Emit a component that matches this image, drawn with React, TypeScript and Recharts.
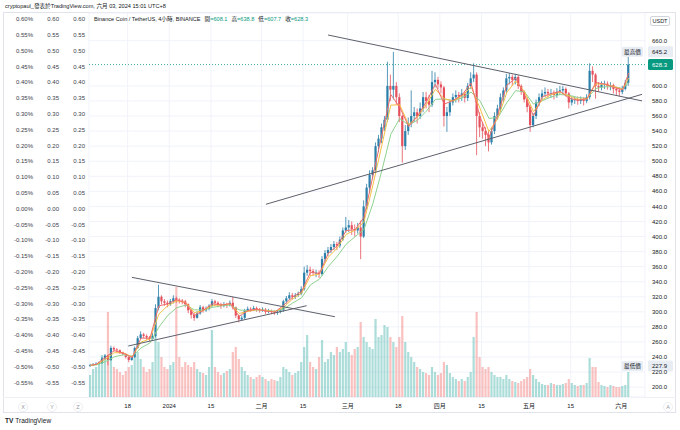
import React from 'react';
import {
  ComposedChart, Bar, Line, XAxis, YAxis, CartesianGrid, ReferenceLine, Cell,
} from 'recharts';

// BNB/USDT 4h snapshot at roughly one candle per day.
// day 1 = 2023-12-05 ... day 182 = 2024-06-03 (days 183-187 are empty right margin)
const opens = [
  229, 229, 230, 231, 232, 238, 242, 236, 252,
  250, 249, 246, 244, 240, 236, 240, 252, 265, 270,
  268, 266, 264, 268, 305, 320, 314, 312, 310, 314,
  318, 316, 315, 314, 310, 302, 296, 292, 298, 306,
  302, 304, 308, 314, 312, 310, 308, 310, 309, 312,
  306, 295, 290, 292, 302, 304, 303, 305, 303, 302,
  303, 300, 301, 300, 299, 300, 302, 314, 318, 322,
  320, 322, 324, 330, 352, 356, 354, 352, 352, 350,
  370, 378, 382, 386, 390, 388, 396, 408, 412, 415,
  410, 408, 412, 400, 440, 465, 482, 488, 520, 530,
  545, 555, 600, 595, 600, 585, 560, 520, 540, 550,
  560, 565, 560, 570, 585, 580, 575, 605, 608, 602,
  598, 560, 565, 578, 585, 588, 586, 590, 584, 600,
  610, 615, 560, 545, 540, 535, 525, 540, 560, 570,
  585, 594, 610, 612, 608, 612, 600, 592, 582, 572,
  548, 560, 578, 585, 590, 592, 590, 590, 588, 592,
  594, 596, 590, 578, 582, 582, 580, 582, 580, 585,
  620, 615, 600, 598, 602, 603, 600, 601, 596, 594,
  592, 596, 604,
];
const highs = [
  231, 232, 233, 234, 240, 244, 243, 255, 254,
  252, 250, 247, 245, 241, 242, 254, 268, 274, 272,
  270, 268, 272, 310, 336, 322, 317, 315, 317, 322,
  320, 318, 317, 316, 311, 304, 299, 301, 309, 308,
  307, 310, 317, 316, 314, 312, 313, 312, 315, 320,
  307, 296, 295, 304, 307, 306, 308, 307, 305, 306,
  305, 304, 303, 302, 302, 304, 316, 321, 326, 325,
  325, 327, 334, 360, 362, 360, 357, 356, 355, 374,
  382, 386, 390, 394, 393, 400, 412, 426, 422, 420,
  416, 418, 421, 448, 470, 488, 492, 525, 535, 550,
  560, 632, 615, 645.2, 605, 590, 562, 548, 558, 594,
  572, 570, 578, 592, 592, 588, 620, 618, 612, 606,
  600, 572, 582, 590, 594, 592, 596, 593, 604, 618,
  630, 618, 565, 552, 545, 542, 545, 565, 575, 590,
  598, 616, 617, 615, 616, 614, 602, 594, 585, 575,
  564, 582, 590, 595, 598, 596, 596, 594, 597, 600,
  600, 598, 592, 586, 586, 586, 586, 585, 589, 630,
  626, 617, 605, 606, 607, 606, 605, 603, 599, 598,
  600, 608, 638.8,
];
const lows = [
  227, 228, 229, 230, 231, 236, 229, 235, 247,
  246, 244, 242, 238, 233, 235, 239, 251, 264, 265,
  263, 261, 263, 266, 302, 310, 308, 306, 308, 311,
  312, 311, 310, 306, 298, 291, 288, 291, 296, 299,
  300, 302, 306, 308, 306, 304, 306, 305, 307, 303,
  292, 286, 288, 290, 300, 300, 301, 300, 299, 300,
  297, 298, 297, 296, 296, 298, 300, 311, 316, 316,
  317, 320, 322, 328, 348, 348, 348, 346, 345, 348,
  366, 374, 378, 382, 382, 385, 394, 405, 406, 402,
  400, 404, 370, 398, 436, 458, 476, 484, 512, 524,
  540, 552, 580, 582, 575, 552, 498, 515, 535, 545,
  552, 550, 556, 565, 570, 565, 572, 598, 596, 590,
  546, 539, 560, 574, 578, 578, 580, 578, 580, 596,
  605, 508, 532, 530, 520, 513, 522, 536, 555, 565,
  578, 590, 602, 600, 602, 596, 588, 578, 565, 539,
  545, 556, 573, 580, 585, 584, 584, 582, 584, 588,
  589, 586, 570, 574, 576, 575, 576, 574, 577, 582,
  605, 583, 592, 594, 596, 595, 594, 590, 588, 586,
  589, 594, 600,
];
const closes = [
  229, 230, 231, 232, 238, 242, 236, 252, 250,
  249, 246, 244, 240, 236, 240, 252, 265, 270, 268,
  266, 264, 268, 305, 320, 314, 312, 310, 314, 318,
  316, 315, 314, 310, 302, 296, 292, 298, 306, 302,
  304, 308, 314, 312, 310, 308, 310, 309, 312, 306,
  295, 290, 292, 302, 304, 303, 305, 303, 302, 303,
  300, 301, 300, 299, 300, 302, 314, 318, 322, 320,
  322, 324, 330, 352, 356, 354, 352, 352, 350, 370,
  378, 382, 386, 390, 388, 396, 408, 412, 415, 410,
  408, 412, 400, 440, 465, 482, 488, 520, 530, 545,
  555, 600, 595, 600, 585, 560, 520, 540, 550, 560,
  565, 560, 570, 585, 580, 575, 605, 608, 602, 598,
  560, 565, 578, 585, 588, 586, 590, 584, 600, 610,
  615, 560, 545, 540, 535, 525, 540, 560, 570, 585,
  594, 610, 612, 608, 612, 600, 592, 582, 572, 548,
  560, 578, 585, 590, 592, 590, 590, 588, 592, 594,
  596, 590, 578, 582, 582, 580, 582, 580, 585, 620,
  615, 600, 598, 602, 603, 600, 601, 596, 594, 592,
  596, 604, 628.3,
];
// volume, roughly in pixels of bar height
const volumes = [
  22, 28, 30, 35, 42, 38, 85, 40, 30,
  28, 25, 22, 26, 30, 32, 40, 45, 38, 30,
  25, 28, 35, 62, 55, 40, 30, 28, 32, 35,
  110, 40, 30, 35, 32, 30, 35, 28, 25, 24,
  22, 30, 67, 30, 25, 22, 24, 26, 28, 45,
  50, 38, 30, 26, 22, 20, 18, 20, 22, 20,
  18, 16, 18, 17, 16, 20, 30, 28, 25, 22,
  24, 26, 35, 50, 62, 35, 30, 28, 40, 57,
  35, 38, 45, 42, 50, 45, 48, 55, 45, 42,
  48, 50, 75, 60, 55, 50, 48, 78, 60, 62,
  72, 70, 60, 55, 50, 60, 81, 55, 45, 40,
  35, 30, 28, 25, 24, 22, 30, 25, 22, 24,
  35, 32, 24, 20, 18, 16, 18, 16, 20, 25,
  60, 85, 40, 30, 28, 30, 25, 22, 20, 20,
  18, 22, 18, 16, 15, 14, 16, 18, 20, 28,
  22, 18, 15, 13, 12, 12, 14, 13, 12, 12,
  13, 14, 18, 14, 12, 11, 12, 12, 14, 39,
  30, 30, 15, 12, 11, 10, 12, 11, 10, 10,
  11, 12, 25,
];
const padDays = [183, 184, 185, 186, 187];

// moving averages, sampled every few days
const maDays = [
  1, 3, 6, 9, 12, 15, 18, 21, 24, 27, 30, 33, 36, 39, 42, 45, 48, 51, 54, 57, 60,
  63, 66, 69, 72, 75, 78, 81, 84, 87, 90, 93, 96, 99, 102, 105, 108, 111, 114, 117, 120,
  123, 126, 129, 132, 135, 138, 141, 144, 147, 150, 153, 156, 159, 162, 165, 168, 171, 174, 177, 180, 182,
];
const maFast = [
  229, 230.4, 239.4, 248.5, 245.2, 239.4, 265.1, 264.9, 307.9, 310.7, 316, 311.8, 295.2, 302.2, 310.8, 309, 310.9, 294.1, 301.7, 303.4, 301.1,
  299.6, 308.8, 319.6, 327.1, 352.6, 350.8, 377.9, 387.6, 407.9, 409.1, 425.7, 480.4, 534.9, 588.5, 571.7, 546.1, 560.3, 579, 602.2, 575.8,
  580.8, 588.2, 603.7, 559.1, 531, 562.2, 600.7, 610.3, 587.9, 560.1, 585.7, 589.9, 592.7, 583.6, 580.9, 583.2, 604.4, 602.4, 598, 594.9, 617.1,
];
const maMid = [
  229, 230, 237, 245.7, 245.6, 240.2, 259.8, 264.1, 296.9, 308.2, 314.5, 312.6, 298.9, 301.7, 308.5, 309.2, 310.4, 297.9, 300.5, 302.9, 301.6,
  300.1, 306.1, 317.2, 324.7, 347.9, 350.3, 372.5, 384.8, 402.9, 408.4, 419.5, 468.5, 521.3, 574.5, 574.9, 548.7, 558.7, 575.2, 595.4, 582.8,
  580, 586.6, 598.8, 570.3, 539.4, 556.7, 591, 606.5, 592.3, 565.8, 581.8, 588.5, 591.5, 586.4, 582.2, 582.7, 602.8, 602, 599.1, 595.4, 610.6,
];
const maSlow = [
  229, 229.6, 233.7, 240.2, 243, 240.9, 252, 258.7, 279.6, 295.3, 305.4, 308.9, 302.6, 302.5, 305.9, 307.8, 309.1, 302.6, 301.4, 302.5, 302,
  300.9, 303.6, 311.7, 318.6, 335.9, 343.4, 360.1, 373.8, 389.8, 399.8, 409.5, 443.9, 487.6, 535.7, 556.7, 548, 554.6, 566.5, 582.1, 582.8,
  580.2, 584.1, 591.8, 580.3, 556.9, 557.8, 577.5, 593.7, 591.9, 575.9, 580.4, 585.4, 588.5, 587.6, 584.5, 583.6, 596.6, 598.9, 598.8, 596.6, 604.1,
];

// trend lines drawn on the chart: [dayStart, priceStart, dayEnd, priceEnd]
const trendLines = [
  [80.9, 667.6, 186.5, 580.1],
  [60.0, 442.8, 186.5, 588.8],
  [14.9, 345.8, 83.2, 293.5],
  [13.7, 254.6, 73.7, 308.1],
];

const dateTicks = [13.5, 27.5, 41.5, 58.5, 72.5, 87.5, 104.5, 118.5, 132.5, 148.5, 162.5, 179.5];
const dateLabels = ['18', '2024', '15', '二月', '15', '三月', '18', '四月', '15', '五月', '15', '六月'];
const priceTicks = [660, 600, 580, 560, 540, 520, 500, 480, 460, 440, 420, 400, 380, 360, 340, 320, 300, 280, 260, 240, 220, 200];
const pctTicks = [0.6, 0.55, 0.5, 0.45, 0.4, 0.35, 0.3, 0.25, 0.2, 0.15, 0.1, 0.05, 0, -0.05, -0.1, -0.15, -0.2, -0.25, -0.3, -0.35, -0.4, -0.45, -0.5, -0.55];

const legendItems = [['開', '608.1'], ['高', '638.8'], ['低', '607.7'], ['收', '628.3']];
const lastPrice = 628.3;
const highMark = 645.2;
const lowMark = 227.9;

const FONT = "'Liberation Sans', 'Noto Sans CJK TC', sans-serif";
const UP = '#2b7fa8';
const DOWN = '#e5505c';
const VOL_UP = 'rgba(38,166,154,0.38)';
const VOL_DOWN = 'rgba(239,83,80,0.36)';
const TEAL = '#089981';
const AXIS_TEXT = '#3a3e4a';
const GRID = '#f0f3fa';

const rows = [
  ...closes.map((c, i) => {
    const d = i + 1;
    const k = maDays.indexOf(d);
    return {
      d,
      o: opens[i], h: highs[i], l: lows[i], c,
      range: [lows[i], highs[i]],
      v: volumes[i],
      up: c >= opens[i],
      maFast: k >= 0 ? maFast[k] : null,
      maMid: k >= 0 ? maMid[k] : null,
      maSlow: k >= 0 ? maSlow[k] : null,
    };
  }),
  ...padDays.map(d => ({ d })),
];

const Candle = (props: any) => {
  const { x, y, width, height, payload } = props;
  if (!payload || payload.o == null) return null;
  const { o, h, l, c } = payload;
  const top = Math.min(y, y + height);
  const span = Math.abs(height);
  const toY = (v: number) => top + ((h - v) / (h - l || 1)) * span;
  const color = c >= o ? UP : DOWN;
  const cx = x + width / 2;
  const bTop = toY(Math.max(o, c));
  const bBot = toY(Math.min(o, c));
  return (
    <g>
      <line x1={cx} x2={cx} y1={top} y2={top + span} stroke={color} strokeWidth={0.8} />
      <rect x={cx - 1.1} y={bTop} width={2.2} height={Math.max(0.8, bBot - bTop)} fill={color} />
    </g>
  );
};

// price tag on the right scale, optional caption box just inside the plot
const PriceTag = (props: any) => {
  const { viewBox, value, caption, bg, fg } = props;
  if (!viewBox) return null;
  const right = viewBox.x + viewBox.width;
  const y = viewBox.y;
  return (
    <g style={{ fontFamily: FONT }}>
      {caption && (
        <g>
          <rect x={right - 23} y={y - 5} width={21} height={10} rx={1.5} fill="#e8ecf3" />
          <text x={right - 12.5} y={y + 2.1} textAnchor="middle" fontSize={5.6} fill="#131722">{caption}</text>
        </g>
      )}
      <rect x={right + 3} y={y - 5.5} width={25} height={11} rx={1.5} fill={bg} />
      <text x={right + 7} y={y + 2.2} fontSize={6} fill={fg}>{value}</text>
    </g>
  );
};

const circleLabel = (text: string, left: number) => (
  <div key={text} style={{
    position: 'absolute', left: left - 5, top: 402, width: 10, height: 10, borderRadius: 5,
    border: '1px solid #eceef2', boxSizing: 'border-box', fontSize: 5.5, lineHeight: '8px',
    textAlign: 'center', color: '#9598a1',
  }}>{text}</div>
);

// left scales: recharts lays these out by id, 'sa' next to the plot, 'sc' outermost
const leftScales = [
  { id: 'sa', pct: false },
  { id: 'sb', pct: false },
  { id: 'sc', pct: true },
];

export default function App() {
  const smallTick = { fontSize: 6, fill: AXIS_TEXT, fontFamily: FONT };
  return (
    <div style={{ position: 'absolute', left: 0, top: 0, width: 680, height: 430, background: '#fff', overflow: 'hidden', fontFamily: FONT }}>
      {/* frame of the pane */}
      <div style={{ position: 'absolute', left: 3, top: 12, width: 673, height: 401, border: '1px solid #e0e3eb', boxSizing: 'border-box' }} />
      <div style={{ position: 'absolute', left: 3, top: 397, width: 673, height: 1, background: '#eef0f4' }} />

      <div style={{ position: 'absolute', left: 0, top: 0 }}>
        <ComposedChart width={680} height={412} data={rows} margin={{ top: 13, right: 0, bottom: 0, left: 11 }}>
          <XAxis xAxisId="cat" dataKey="d" type="category" hide height={0} />
          <XAxis xAxisId="cat2" dataKey="d" type="category" hide height={0} />
          <XAxis
            xAxisId="time" dataKey="d" type="number" domain={[0.5, 187.5]} allowDataOverflow
            ticks={dateTicks} interval={0} height={15}
            axisLine={false} tickLine={false} tickSize={0} tickMargin={7}
            tick={{ fontSize: 6, fill: '#131722', fontFamily: FONT }}
            tickFormatter={(v: number) => dateLabels[dateTicks.indexOf(v)] ?? ''}
          />
          <YAxis
            yAxisId="price" orientation="right" width={35} domain={[186.9, 696.8]} allowDataOverflow
            ticks={priceTicks} interval={0} axisLine={false} tickLine={false} tickSize={0} tickMargin={7}
            tick={{ ...smallTick, fill: '#131722' }} tickFormatter={(v: number) => v.toFixed(1)}
          />
          <YAxis yAxisId="vol" hide width={0} domain={[0, 384]} />
          {leftScales.map(s => (
            <YAxis
              key={s.id} yAxisId={s.id} orientation="left" width={26} domain={[-0.596, 0.619]} allowDataOverflow
              ticks={pctTicks} interval={0} axisLine={false} tickLine={false} tickSize={0} tickMargin={4}
              tick={smallTick}
              tickFormatter={(v: number) => (s.pct ? `${v.toFixed(2)}%` : v.toFixed(2))}
            />
          ))}

          <CartesianGrid xAxisId="time" yAxisId="price" stroke={GRID} />

          <Bar xAxisId="cat2" yAxisId="vol" dataKey="v" barSize={2.2} isAnimationActive={false}>
            {rows.map((r: any, i) => <Cell key={i} fill={r.up ? VOL_UP : VOL_DOWN} />)}
          </Bar>

          <ReferenceLine
            xAxisId="time" yAxisId="price" y={lastPrice} stroke={TEAL} strokeDasharray="1 2" strokeWidth={0.8}
            label={<PriceTag value={lastPrice.toFixed(1)} bg={TEAL} fg="#fff" />}
          />

          <Bar xAxisId="cat" yAxisId="price" dataKey="range" barSize={2.2} shape={<Candle />} isAnimationActive={false} />

          <Line xAxisId="cat" yAxisId="price" dataKey="maSlow" stroke="#8fd18f" strokeWidth={1} dot={false} connectNulls isAnimationActive={false} />
          <Line xAxisId="cat" yAxisId="price" dataKey="maMid" stroke="#f5c243" strokeWidth={1} dot={false} connectNulls isAnimationActive={false} />
          <Line xAxisId="cat" yAxisId="price" dataKey="maFast" stroke="#f06b6b" strokeWidth={1} dot={false} connectNulls isAnimationActive={false} />

          {trendLines.map(([x1, y1, x2, y2], i) => (
            <ReferenceLine
              key={i} xAxisId="time" yAxisId="price"
              segment={[{ x: x1, y: y1 }, { x: x2, y: y2 }]}
              stroke="#5d606b" strokeWidth={1}
            />
          ))}

          <ReferenceLine
            xAxisId="time" yAxisId="price" y={highMark} stroke="none"
            label={<PriceTag value={highMark.toFixed(1)} caption="最高價" bg="#e8ecf3" fg="#131722" />}
          />
          <ReferenceLine
            xAxisId="time" yAxisId="price" y={lowMark} stroke="none"
            label={<PriceTag value={lowMark.toFixed(1)} caption="最低價" bg="#e8ecf3" fg="#131722" />}
          />
        </ComposedChart>
      </div>

      {/* header + legend */}
      <div style={{ position: 'absolute', left: 5, top: 2, fontSize: 5.6, lineHeight: '9px', color: '#131722', whiteSpace: 'nowrap' }}>
        cryptopaul_發表於TradingView.com, 六月 03, 2024 15:01 UTC+8
      </div>
      <div style={{ position: 'absolute', left: 94, top: 15, fontSize: 5.6, lineHeight: '8px', color: '#131722', whiteSpace: 'nowrap' }}>
        Binance Coin / TetherUS, 4小時, BINANCE
        {legendItems.map(([k, v]) => (
          <span key={k} style={{ marginLeft: 4 }}>{k}<span style={{ color: TEAL }}>={v}</span></span>
        ))}
      </div>

      {/* currency box on the price scale */}
      <div style={{
        position: 'absolute', left: 650, top: 16, width: 20, height: 10, border: '1px solid #d1d4dc', borderRadius: 2,
        boxSizing: 'border-box', fontSize: 5.5, lineHeight: '8px', textAlign: 'center', color: '#131722',
      }}>USDT</div>

      {circleLabel('X', 23)}
      {circleLabel('Y', 52)}
      {circleLabel('Z', 78)}
      {circleLabel('A', 668)}

      <div style={{ position: 'absolute', left: 5, top: 416, fontSize: 6.5, lineHeight: '9px', color: '#131722', whiteSpace: 'nowrap' }}>
        <span style={{ fontWeight: 700, marginRight: 2 }}>TV</span>TradingView
      </div>
    </div>
  );
}
